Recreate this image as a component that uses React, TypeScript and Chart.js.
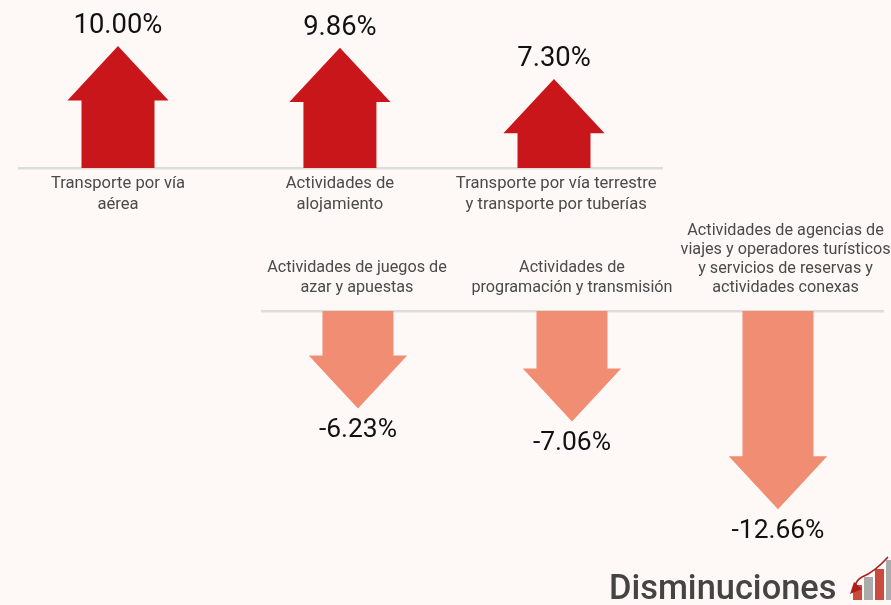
import React, { useEffect, useRef } from "react";
import { Chart, BarController, BarElement, LinearScale } from "chart.js";

const increaseCategories: string[][] = [
  ["Transporte por vía", "aérea"],
  ["Actividades de", "alojamiento"],
  ["Transporte por vía terrestre", "y transporte por tuberías"],
];
const increaseValues = [10.0, 9.86, 7.3];

const decreaseCategories: string[][] = [
  ["Actividades de juegos de", "azar y apuestas"],
  ["Actividades de", "programación y transmisión"],
  ["Actividades de agencias de", "viajes y operadores turísticos", "y servicios de reservas y", "actividades conexas"],
];
const decreaseValues = [-6.23, -7.06, -12.66];

const BG = "#FEF9F6";
const RED = "#C9161B";
const SALMON = "#F08D72";
const LINE = "#DDDED9";
const LABEL = "#4A4A4A";
const VALUE = "#111111";
const FONT = "Roboto";

class ArrowBar extends BarElement {
  static id = "arrowBar";
  draw(ctx: CanvasRenderingContext2D) {
    const { x, y, base, width } = this.getProps(["x", "y", "base", "width"], true) as any;
    const dir = y < base ? 1 : -1; // 1 = pointing up
    const headLen = width * 0.745;
    const headHalf = width * 0.693;
    const neck = y + dir * headLen;
    ctx.save();
    ctx.fillStyle = (this as any).options.backgroundColor;
    ctx.beginPath();
    ctx.moveTo(x - width / 2, base);
    ctx.lineTo(x - width / 2, neck);
    ctx.lineTo(x - headHalf, neck);
    ctx.lineTo(x, y);
    ctx.lineTo(x + headHalf, neck);
    ctx.lineTo(x + width / 2, neck);
    ctx.lineTo(x + width / 2, base);
    ctx.closePath();
    ctx.fill();
    ctx.restore();
  }
}

class ArrowController extends BarController {
  static id = "arrow";
  static defaults = { ...BarController.defaults, dataElementType: "arrowBar" };
}

const valueLabels = {
  id: "valueLabels",
  afterDatasetsDraw(chart: any) {
    const ctx = chart.ctx;
    const meta = chart.getDatasetMeta(0);
    const values = chart.data.datasets[0].data;
    ctx.save();
    ctx.fillStyle = VALUE;
    ctx.textAlign = "center";
    ctx.textBaseline = "middle";
    meta.data.forEach((el: any, i: number) => {
      const v = values[i].y;
      ctx.font = `${v >= 0 ? 27.4 : 26.4}px ${FONT}`;
      const dy = v >= 0 ? -20 : 22;
      ctx.fillText(`${v.toFixed(2)}%`, el.x, el.y + dy);
    });
    ctx.restore();
  },
};

Chart.register(ArrowBar, ArrowController, LinearScale, valueLabels);

function makeConfig(
  categories: string[][],
  values: number[],
  slots: number[],
  tickSlots: number[],
  color: string,
  thickness: number,
  xMin: number,
  xMax: number,
  yMin: number,
  yMax: number,
  axisPosition: "top" | "bottom",
  axisHeight: number,
  padding: number,
  fontSize: number,
  lineHeightFor: (index: number) => number,
  sidePad: number
) {
  return {
    type: "arrow",
    data: {
      datasets: [
        {
          data: values.map((y, i) => ({ x: slots[i], y })),
          backgroundColor: color,
          barThickness: thickness,
        },
      ],
    },
    options: {
      animation: false,
      responsive: false,
      layout: { padding: { left: sidePad, right: sidePad, top: 0, bottom: 0 } },
      plugins: { legend: { display: false }, tooltip: { enabled: false } },
      scales: {
        x: {
          type: "linear",
          position: axisPosition,
          offset: false,
          min: xMin,
          max: xMax,
          grid: { display: true, drawOnChartArea: false, drawTicks: false },
          border: { display: true, color: LINE, width: 2.5 },
          afterBuildTicks: (axis: any) => {
            axis.ticks = tickSlots.map((value) => ({ value }));
          },
          afterFit: (axis: any) => {
            axis.height = axisHeight;
          },
          ticks: {
            autoSkip: false,
            maxRotation: 0,
            minRotation: 0,
            padding,
            color: LABEL,
            font: (ctx: any) => ({ family: FONT, size: fontSize, lineHeight: lineHeightFor(ctx.index) }),
            callback: (_v: number, i: number) => categories[i],
          },
        },
        y: { type: "linear", display: false, min: yMin, max: yMax },
      },
    },
  };
}

export default function App() {
  const topRef = useRef<HTMLCanvasElement>(null);
  const bottomRef = useRef<HTMLCanvasElement>(null);

  useEffect(() => {
    const top = new Chart(
      topRef.current as any,
      makeConfig(
        increaseCategories, increaseValues, [0, 1.018, 2], [0, 1.018, 2.01], RED, 73,
        -0.4587, 2.5, 0, 13.77, "bottom", 62, 5, 16.6, () => 1.265, 0
      ) as any
    );
    const bottom = new Chart(
      bottomRef.current as any,
      makeConfig(
        decreaseCategories, decreaseValues, [0, 1.019, 2], [-0.005, 1.019, 2.036], SALMON, 71,
        -0.457, 2.5, -16.93, 0, "top", 111, 13, 16.2, (i) => (i === 2 ? 1.18 : 1.235), 30
      ) as any
    );
    return () => {
      top.destroy();
      bottom.destroy();
    };
  }, []);

  return (
    <div style={{ position: "fixed", left: 0, top: 0, width: 891, height: 605, background: BG, overflow: "hidden" }}>
      <canvas ref={topRef} width={645} height={230} style={{ position: "absolute", left: 18, top: 0, width: 645, height: 230 }} />
      <canvas ref={bottomRef} width={681} height={376} style={{ position: "absolute", left: 232, top: 200, width: 681, height: 376 }} />
      <div
        style={{
          position: "absolute",
          left: 609,
          top: 567,
          fontFamily: FONT,
          fontWeight: 500,
          fontSize: 34.4,
          lineHeight: "40px",
          color: "#444444",
          whiteSpace: "nowrap",
        }}
      >
        Disminuciones
      </div>
      <svg width={891} height={605} style={{ position: "absolute", left: 0, top: 0 }}>
        <rect x={853} y={585} width={9} height={15} fill="#CB4A3E" />
        <rect x={864} y={577} width={9} height={23} fill="#ABABAB" />
        <rect x={875} y={569} width={9} height={31} fill="#CB4A3E" />
        <rect x={886} y={560} width={5} height={40} fill="#ABABAB" />
        <path d="M888 557 C880 566 872 573 862 577 C858 579 856 582 855 586" fill="none" stroke="#B01C1C" strokeWidth={1.6} />
        <path d="M850 594 L854 582 L862 589 Z" fill="#B01C1C" />
      </svg>
    </div>
  );
}
